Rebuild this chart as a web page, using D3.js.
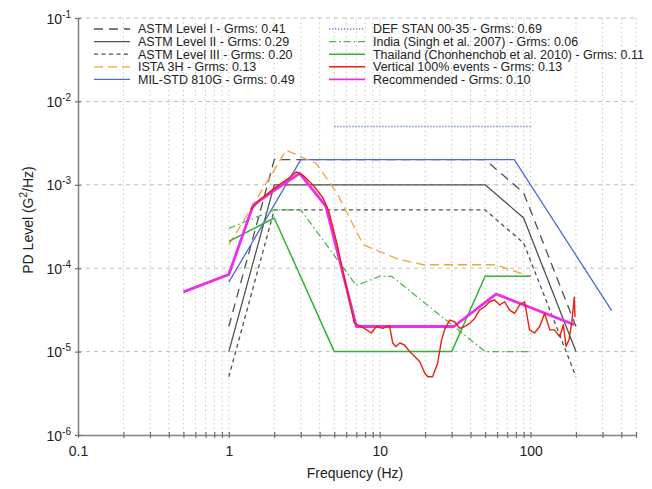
<!DOCTYPE html>
<html>
<head>
<meta charset="utf-8">
<script src="https://cdn.jsdelivr.net/npm/d3@7"></script>
<style>
  body { margin: 0; background: #fff; }
  svg { display: block; font-family: "Liberation Sans", Arial, Helvetica, sans-serif; }
</style>
</head>
<body>
<svg id="chart"></svg>
<script>
// series as [frequency Hz, PSD g^2/Hz]
var astmLevel1 = [[1, 2e-5], [2, 2e-3], [50, 2e-3], [90, 8e-4], [200, 2e-5]];
var astmLevel2 = [[1, 1e-5], [2, 1e-3], [50, 1e-3], [90, 4e-4], [200, 1e-5]];
var astmLevel3 = [[1, 5e-6], [2, 5e-4], [50, 5e-4], [90, 2e-4], [200, 5e-6]];
var ista3h = [[1, 1.9e-4], [2.4, 2.6e-3], [3.8, 1.8e-3], [5.2, 8e-4], [7.8, 1.9e-4], [13.5, 1.27e-4], [19.4, 1.1e-4], [59, 1.1e-4], [100, 7.9e-5]];
var milStd = [[1, 6.8e-5], [3, 2e-3], [78, 2e-3], [345, 3.1e-5]];
var defStan = [[5, 5e-3], [100, 5e-3]];
var india = [[1, 3e-4], [2, 5e-4], [3, 5e-4], [7, 6.2e-5], [10, 8e-5], [12, 8e-5], [50, 1e-5], [100, 1e-5]];
var thailand = [[1, 2.1e-4], [2, 4e-4], [5, 1e-5], [30, 1e-5], [50, 8e-5], [100, 8e-5]];
var vertical100 = [[1.4, 5e-4], [1.6, 6.6e-4], [2.07, 9.5e-4], [2.5, 1.2e-3], [2.8, 1.43e-3], [3.1, 1.3e-3], [3.6, 1.0e-3], [4.2, 7e-4], [4.6, 4.8e-4], [5.2, 2e-4], [6, 6e-5], [6.8, 2.2e-5],
  [7.5, 2e-5], [8.2, 1.82e-5], [8.8, 1.67e-5], [9.5, 2e-5], [10.5, 1.9e-5], [11.6, 2.05e-5], [12.2, 1.27e-5], [12.8, 1.15e-5], [13.6, 1.27e-5], [14.6, 1.2e-5],
  [15.8, 1e-5], [17.1, 8.7e-6], [18.4, 7.6e-6], [19.9, 5.5e-6], [20.8, 5e-6], [22.4, 5e-6], [24.2, 7.2e-6], [25.7, 1.38e-5], [26.9, 1.82e-5], [29.1, 2.39e-5],
  [31.4, 2.28e-5], [33.9, 1.9e-5], [36.6, 2e-5], [39.5, 2.18e-5], [42.6, 2.5e-5], [45.9, 3.15e-5], [49.6, 3.45e-5], [53.5, 3.96e-5], [57.8, 4.16e-5],
  [62.4, 3.62e-5], [67.3, 3.96e-5], [72.6, 3.15e-5], [78.4, 2.88e-5], [84.6, 3.62e-5], [91.3, 3.96e-5], [98.5, 1.82e-5], [106, 1.67e-5], [115, 2e-5],
  [124, 2.88e-5], [134, 1.82e-5], [144, 1.82e-5], [156, 1.51e-5], [165, 2.1e-5], [172, 1.15e-5], [180, 1.4e-5], [188, 2.3e-5], [195, 4.5e-5], [197, 2.6e-5]];
var recommended = [[0.5, 5.2e-5], [1, 8.4e-5], [1.45, 5.7e-4], [2, 8.6e-4], [2.95, 1.37e-3], [4.4, 5.5e-4], [7, 2e-5], [31, 2e-5], [59, 4.9e-5], [195, 2.1e-5]];

var legendLeft = ["ASTM Level I - Grms: 0.41", "ASTM Level II - Grms: 0.29", "ASTM Level III - Grms: 0.20", "ISTA 3H - Grms: 0.13", "MIL-STD 810G - Grms: 0.49"];
var legendRight = ["DEF STAN 00-35 - Grms: 0.69", "India (Singh et al. 2007) - Grms: 0.06", "Thailand (Chonhenchob et al. 2010) - Grms: 0.11", "Vertical 100% events - Grms: 0.13", "Recommended - Grms: 0.10"];

var xTicks = [0.1, 1, 10, 100];
var xTickLabels = ["0.1", "1", "10", "100"];
var yTicks = [1e-1, 1e-2, 1e-3, 1e-4, 1e-5, 1e-6];
var yTickExps = ["-1", "-2", "-3", "-4", "-5", "-6"];

var width = 652, height = 489;
var plotL = 78, plotR = 636, plotT = 18, plotB = 435;

var svg = d3.select("#chart").attr("width", width).attr("height", height);

var x = d3.scaleLog().domain([0.1, 500]).range([plotL, plotR]);
var y = d3.scaleLog().domain([1e-6, 1e-1]).range([plotB, plotT]);

// grid: dotted verticals at every decade step, dashed horizontals at decades
var minorX = [];
[0.1, 1, 10, 100].forEach(function (d) {
  for (var k = 1; k < 10; k++) { if (d * k <= 500) minorX.push(d * k); }
});

svg.append("g").selectAll("line").data(minorX.filter(function (d) { return d > 0.1; }))
  .enter().append("line")
  .attr("x1", function (d) { return x(d); }).attr("x2", function (d) { return x(d); })
  .attr("y1", plotT).attr("y2", plotB)
  .attr("stroke", "#c8c8c8").attr("stroke-width", 1).attr("stroke-dasharray", "1.5,3");

svg.append("g").selectAll("line").data(yTicks.filter(function (d) { return d > 1e-6; }))
  .enter().append("line")
  .attr("x1", plotL).attr("x2", plotR)
  .attr("y1", function (d) { return y(d); }).attr("y2", function (d) { return y(d); })
  .attr("stroke", "#bdbdbd").attr("stroke-width", 1).attr("stroke-dasharray", "4,4");

// axes
var xAxis = d3.axisBottom(x).tickValues(minorX).tickSize(0)
  .tickFormat(function (d) { var i = xTicks.indexOf(d); return i < 0 ? "" : xTickLabels[i]; });
var gx = svg.append("g").attr("transform", "translate(0," + plotB + ")").call(xAxis);
gx.select(".domain").attr("stroke", "#808080").attr("stroke-width", 1.5);
gx.selectAll(".tick line").attr("y1", -3).attr("y2", 3).attr("stroke", "#707070").attr("stroke-width", 1.2);
gx.selectAll(".tick text").attr("dy", 0).attr("y", 21).attr("font-size", 14).attr("fill", "#222");

var yAxis = d3.axisLeft(y).tickValues(yTicks).tickSize(0).tickFormat("");
var gy = svg.append("g").attr("transform", "translate(" + plotL + ",0)").call(yAxis);
gy.select(".domain").attr("stroke", "#808080").attr("stroke-width", 1.5);
gy.selectAll(".tick line").attr("x1", -3).attr("x2", 3).attr("stroke", "#707070").attr("stroke-width", 1.2);
gy.selectAll(".tick").each(function (d, i) {
  var t = d3.select(this).append("text").attr("x", -7).attr("y", 5)
    .attr("text-anchor", "end").attr("fill", "#222").attr("font-size", 14);
  t.append("tspan").text("10");
  t.append("tspan").attr("dy", -6).attr("font-size", 10).text(yTickExps[i]);
});

svg.append("text").attr("x", (plotL + plotR) / 2 - 2).attr("y", 478)
  .attr("text-anchor", "middle").attr("font-size", 14).attr("fill", "#222").text("Frequency (Hz)");

var yt = svg.append("text").attr("transform", "translate(33,220) rotate(-90)")
  .attr("text-anchor", "middle").attr("font-size", 14).attr("fill", "#222");
yt.append("tspan").text("PD Level (G");
yt.append("tspan").attr("dy", -6).attr("font-size", 10).text("2");
yt.append("tspan").attr("dy", 6).text("/Hz)");

// series styles
var series = [
  { data: astmLevel1, color: "#505050", w: 1.3, dash: "9,6" },
  { data: astmLevel2, color: "#505050", w: 1.3, dash: null },
  { data: astmLevel3, color: "#505050", w: 1.3, dash: "4,3.5" },
  { data: ista3h, color: "#eda53a", w: 1.3, dash: "9,5" },
  { data: milStd, color: "#4f6bd6", w: 1.3, dash: null },
  { data: defStan, color: "#6f7fe0", w: 1.6, dash: "1.3,1.7" },
  { data: india, color: "#4cb84c", w: 1.3, dash: "7,3,1.5,3" },
  { data: thailand, color: "#2fb52f", w: 1.5, dash: null },
  { data: vertical100, color: "#e8200e", w: 1.4, dash: null },
  { data: recommended, color: "#f02ce8", w: 2.8, dash: null }
];

var line = d3.line().x(function (d) { return x(d[0]); }).y(function (d) { return y(d[1]); });

var draw = [0, 1, 2, 4, 5, 3, 6, 7, 9, 8];
draw.forEach(function (i) {
  var s = series[i];
  svg.append("path").datum(s.data).attr("d", line)
    .attr("fill", "none").attr("stroke", s.color).attr("stroke-width", s.w)
    .attr("stroke-dasharray", s.dash).attr("stroke-linejoin", "round");
});

// legend (text in the original is a little wider than Liberation Sans)
function legendColumn(labels, styles, lx, tx) {
  labels.forEach(function (label, i) {
    var s = styles[i], ly = 29 + i * 12.6;
    svg.append("line").attr("x1", lx).attr("x2", lx + 36).attr("y1", ly).attr("y2", ly)
      .attr("stroke", s.color).attr("stroke-width", Math.min(s.w, 1.6)).attr("stroke-dasharray", s.dash);
    svg.append("text").attr("transform", "translate(" + tx + "," + (ly + 4.3) + ") scale(1.04,1)")
      .attr("font-size", 12).attr("fill", "#222").text(label);
  });
}
legendColumn(legendLeft, series.slice(0, 5), 94, 138);
legendColumn(legendRight, series.slice(5), 329, 373);
</script>
</body>
</html>
